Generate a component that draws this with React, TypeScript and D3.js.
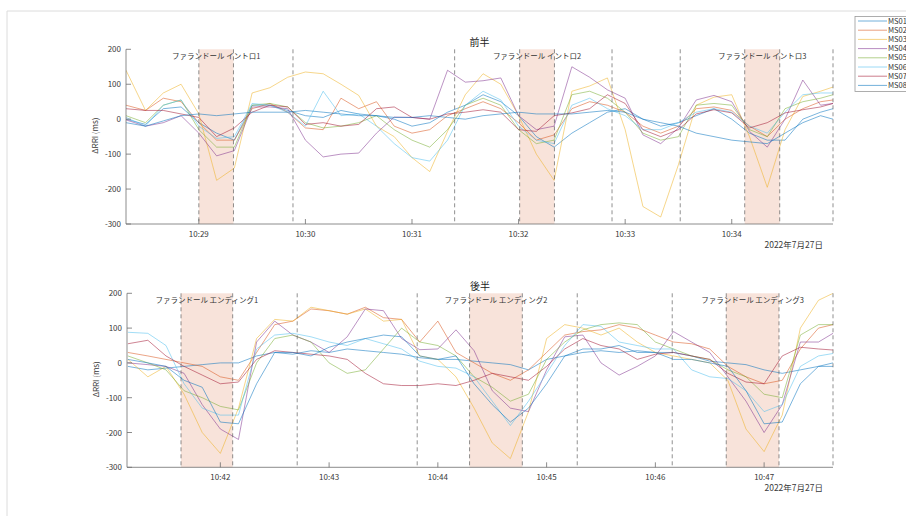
import React from 'react';
import * as d3 from 'd3';

// ---------- data ----------
const seriesNames = ['MS01', 'MS02', 'MS03', 'MS04', 'MS05', 'MS06', 'MS07', 'MS08'];
const seriesColors = ['#0072BD', '#D95319', '#EDB120', '#7E2F8E', '#77AC30', '#4DBEEE', '#A2142F', '#0072BD'];

const dateLabel = '2022年7月27日';
const yTicks = [200, 100, 0, -100, -200, -300];

// 前半 (seconds after 10:28:00)
const topBase = '2022-07-27 10:28:00';
const topDomain = [19, 417];
const topTimes = [19, 30, 40, 50, 60, 70, 80, 90, 100, 110, 120, 130, 140, 150, 160, 170, 180, 190, 200, 210, 220, 230, 240, 250, 260, 270, 280, 290, 300, 310, 320, 330, 340, 350, 360, 370, 380, 390, 400, 410, 417];
const topMS01 = [0, -15, 30, 35, -10, -40, -60, 40, 40, 25, 10, 5, 25, 15, 10, 0, -20, -10, 20, 40, 70, 50, 10, -50, -80, -40, -10, 20, 30, 0, -20, -10, 10, 30, 0, -40, -60, -60, 0, 20, 30];
const topMS02 = [40, 25, 60, 50, -10, -60, -60, 30, 45, 20, -25, -30, 60, 30, 50, -20, -40, -30, 10, 30, 50, 30, -10, -60, -45, 30, 50, 40, 20, -20, -40, -20, 30, 35, 25, -20, -50, 0, 30, 50, 55];
const topMS03 = [140, 25, 75, 100, 15, -175, -140, 75, 90, 120, 135, 130, 100, 68, -20, -50, -110, -150, -35, 70, 130, 100, 10, -100, -175, 80, 95, 118, -30, -250, -280, -130, 40, 63, 70, -50, -195, -30, 65, 80, 92];
const topMS04 = [-2, -20, -10, 10, -40, -105, -90, 35, 35, 30, -60, -108, -100, -97, -40, 6, 5, 0, 140, 106, 110, 118, 10, -30, -20, 150, 120, 84, 60, -45, -70, -25, 55, 68, 50, -35, -80, 0, 112, 40, 45];
const topMS05 = [10, -10, 40, 55, -30, -80, -80, 40, 45, 35, -10, -25, -20, -10, 10, -30, -60, -80, -30, 40, 60, 40, -30, -70, -60, 70, 80, 60, 20, -40, -60, -50, 40, 45, 40, -30, -50, 30, 50, 60, 70];
const topMS06 = [5, -20, 40, 55, -20, -55, -50, 45, 40, 20, -20, 80, 10, 15, -20, -70, -110, -120, -60, 40, 80, 55, -20, -60, -70, 40, 60, 30, 10, -30, -30, -10, 20, 30, 20, -20, -40, 20, 70, 75, 75];
const topMS07 = [30, 25, 25, 15, 5, -50, -25, 20, 40, 35, -15, -10, -20, -15, 30, 35, 5, 0, 15, 20, 27, 20, -30, -35, 10, 18, 30, 70, 45, -30, -50, -30, 15, 27, 18, -25, -10, 18, 27, 35, 45];
const topMS08 = [-10, -20, -5, 10, 15, 10, 15, 20, 20, 20, 25, 20, 15, 10, 10, 5, 5, 10, 5, 0, 10, 15, 20, 15, 15, 15, 20, 25, 20, 0, -10, -20, -40, -50, -60, -65, -70, -40, -10, 10, 0];
const topTickLabels = ['10:29', '10:30', '10:31', '10:32', '10:33', '10:34'];
const topDashes = [60, 79.5, 113, 204, 240.6, 260.2, 292.6, 331, 367.3, 387, 417];
const topBands = [[60, 79.5], [240.6, 260.2], [367.3, 387]];
const topBandLabels = ['ファランドール イントロ1', 'ファランドール イントロ2', 'ファランドール イントロ3'];
const topTitle = '前半';

// 後半 (seconds after 10:41:00)
const botBase = '2022-07-27 10:41:00';
const botDomain = [8.5, 398];
const botTimes = [9, 20, 30, 40, 50, 60, 70, 80, 90, 100, 110, 120, 130, 140, 150, 160, 170, 180, 190, 200, 210, 220, 230, 240, 250, 260, 270, 280, 290, 300, 310, 320, 330, 340, 350, 360, 370, 380, 390, 398];
const botMS01 = [-10, -20, -15, -10, -5, 0, 0, 20, 30, 25, 35, 30, 40, 35, 30, 25, 15, 10, 10, 5, 0, -5, -20, 10, 20, 30, 35, 30, 35, 30, 30, 20, 5, 0, -5, -20, -30, -20, -10, 0];
const botMS02 = [30, 20, 10, 0, -10, -40, -50, 30, 110, 120, 155, 150, 140, 160, 130, 125, 60, 120, 30, 0, -30, -50, -20, 30, 80, 90, 95, 110, 100, 80, 60, 55, 40, -10, -40, -60, -50, 40, 100, 110];
const botMS03 = [10, -40, -10, -90, -200, -260, -130, 70, 125, 120, 160, 150, 140, 155, 120, 125, 20, 10, -40, -130, -230, -275, -140, 70, 110, 100, 80, 100, 60, 30, 20, 10, 0, -50, -190, -255, -150, 100, 180, 200];
const botMS04 = [0, -5, -10, -30, -120, -190, -220, 60, 120, 80, 60, 30, 75, 155, 150, 70, 38, 40, 95, 35, -80, -130, -140, -20, 75, 80, 0, -35, -10, 20, 90, 60, 30, -40, -110, -200, -120, 60, 60, 85];
const botMS05 = [20, 0, -20, -80, -100, -125, -135, 0, 70, 80, 60, 0, -30, -20, 40, 100, 60, 50, 20, -40, -70, -110, -90, 10, 60, 95, 110, 115, 110, 60, 40, 20, 10, -20, -40, -90, -100, 80, 110, 110];
const botMS06 = [88, 85, 50, -60, -130, -150, -150, 40, 80, 85, 75, 60, 50, 70, 55, 40, 5, -10, -15, -40, -110, -180, -110, -30, 50, 110, 105, 60, 50, 40, 40, -20, -40, -45, -80, -140, -120, -10, 20, 27];
const botMS07 = [55, 65, 20, -10, -35, -60, -55, 10, 35, 30, 25, 20, 10, -30, -60, -65, -65, -60, -65, -50, -30, -40, -50, -10, 40, 70, 50, 40, 10, 25, 30, 20, 10, -30, -55, -60, 20, 45, 40, 37];
const botMS08 = [10, 0, -10, -50, -70, -170, -175, -60, 30, 30, 20, 45, 60, 70, 80, 75, 20, 10, 20, -60, -120, -170, -130, -60, 20, 40, 40, 50, 30, 30, 10, 10, 0, -10, -80, -175, -170, -60, -10, -10];
const botTickLabels = ['10:42', '10:43', '10:44', '10:45', '10:46', '10:47'];
const botDashes = [38.3, 66.8, 102.4, 168.6, 197.5, 226.6, 256.9, 309.3, 339.1, 368.2, 398];
const botBands = [[38.3, 66.8], [197.5, 226.6], [339.1, 368.2]];
const botBandLabels = ['ファランドール エンディング1', 'ファランドール エンディング2', 'ファランドール エンディング3'];
const botTitle = '後半';

const yLabel = 'ΔRRI (ms)';

// ---------- drawing ----------
const FONT = '"Noto Sans CJK JP", "Noto Sans", sans-serif';
const parseFull = d3.timeParse('%Y-%m-%d %H:%M:%S');
const parseMin = d3.timeParse('%Y-%m-%d %H:%M');

type PanelProps = {
  id: string;
  base: string;
  domain: number[];
  times: number[];
  series: number[][];
  tickLabels: string[];
  dashes: number[];
  bands: number[][];
  bandLabels: string[];
  title: string;
  left: number;
  right: number;
  top: number;
  bottom: number;
};

function Panel(p: PanelProps) {
  const baseDate = parseFull(p.base) as Date;
  const day = p.base.slice(0, 10);
  const toDate = (s: number) => new Date(baseDate.getTime() + s * 1000);
  const x = d3.scaleTime().domain([toDate(p.domain[0]), toDate(p.domain[1])]).range([p.left, p.right]);
  const y = d3.scaleLinear().domain([-300, 200]).range([p.bottom, p.top]);
  const line = d3
    .line<[number, number]>()
    .x((d) => x(toDate(d[0])))
    .y((d) => y(d[1]));
  const axisColor = '#6e6e6e';
  const textColor = '#3a3a3a';
  return (
    <g>
      <defs>
        <clipPath id={`clip-${p.id}`}>
          <rect x={p.left} y={p.top} width={p.right - p.left} height={p.bottom - p.top} />
        </clipPath>
      </defs>
      {p.bands.map((b, i) => (
        <rect
          key={`band${i}`}
          x={x(toDate(b[0]))}
          y={p.top}
          width={x(toDate(b[1])) - x(toDate(b[0]))}
          height={p.bottom - p.top}
          fill="#f8e3da"
        />
      ))}
      <g clipPath={`url(#clip-${p.id})`}>
        {p.series.map((vals, si) => (
          <path
            key={`s${si}`}
            d={line(p.times.map((t, i) => [t, vals[i]]) as [number, number][]) || ''}
            fill="none"
            stroke={seriesColors[si]}
            strokeWidth={0.85}
            strokeOpacity={0.62}
            strokeLinejoin="round"
          />
        ))}
      </g>
      {p.dashes.map((d, i) => (
        <line
          key={`dash${i}`}
          x1={x(toDate(d))}
          x2={x(toDate(d))}
          y1={p.top}
          y2={p.bottom}
          stroke="#5a5a5a"
          strokeWidth={0.8}
          strokeDasharray="4,3"
          strokeOpacity={0.85}
        />
      ))}
      {/* axes */}
      <line x1={p.left} x2={p.left} y1={p.top} y2={p.bottom} stroke={axisColor} strokeWidth={0.8} />
      <line x1={p.left} x2={p.right} y1={p.bottom} y2={p.bottom} stroke={axisColor} strokeWidth={0.8} />
      {yTicks.map((v) => (
        <g key={`yt${v}`}>
          <line x1={p.left} x2={p.left + 5} y1={y(v)} y2={y(v)} stroke={axisColor} strokeWidth={0.8} />
          <text x={p.left - 5} y={y(v) + 3} textAnchor="end" fontSize={8} fill={textColor} fontFamily={FONT}>
            {v}
          </text>
        </g>
      ))}
      {p.tickLabels.map((lab) => {
        const xx = x(parseMin(`${day} ${lab}`) as Date);
        return (
          <g key={`xt${lab}`}>
            <line x1={xx} x2={xx} y1={p.bottom} y2={p.bottom - 5} stroke={axisColor} strokeWidth={0.8} />
            <text x={xx} y={p.bottom + 12.5} textAnchor="middle" fontSize={8} fill={textColor} fontFamily={FONT}>
              {lab}
            </text>
          </g>
        );
      })}
      <text x={p.right - 10} y={p.bottom + 23.5} textAnchor="end" fontSize={8.5} fill={textColor} fontFamily={FONT}>
        {dateLabel}
      </text>
      <text
        transform={`translate(${p.left - 28},${(p.top + p.bottom) / 2 - 1}) rotate(-90)`}
        textAnchor="middle"
        fontSize={8}
        fill={textColor}
        fontFamily={FONT}
      >
        {yLabel}
      </text>
      <text x={(p.left + p.right) / 2} y={p.top - 3} textAnchor="middle" fontSize={10} fill="#222" fontFamily={FONT}>
        {p.title}
      </text>
      {p.bands.map((b, i) => (
        <text
          key={`bl${i}`}
          x={(x(toDate(b[0])) + x(toDate(b[1]))) / 2}
          y={p.top + 10}
          textAnchor="middle"
          fontSize={7.5}
          fill="#333"
          fontFamily={FONT}
        >
          {p.bandLabels[i]}
        </text>
      ))}
    </g>
  );
}

export default function App() {
  const legendY = d3.scaleLinear().domain([0, 7]).range([21, 85.4]);
  return (
    <svg
      width={906}
      height={516}
      style={{ position: 'absolute', left: 0, top: 0, background: '#fff' }}
      fontFamily={FONT}
    >
      <rect x={0} y={0} width={906} height={516} fill="#fff" />
      <line x1={7} x2={906} y1={11} y2={11} stroke="#dcdcdc" strokeWidth={1} />
      <line x1={7} x2={7} y1={11} y2={516} stroke="#dcdcdc" strokeWidth={1} />
      <Panel
        id="top"
        base={topBase}
        domain={topDomain}
        times={topTimes}
        series={[topMS01, topMS02, topMS03, topMS04, topMS05, topMS06, topMS07, topMS08]}
        tickLabels={topTickLabels}
        dashes={topDashes}
        bands={topBands}
        bandLabels={topBandLabels}
        title={topTitle}
        left={126}
        right={833}
        top={49.3}
        bottom={224}
      />
      <Panel
        id="bot"
        base={botBase}
        domain={botDomain}
        times={botTimes}
        series={[botMS01, botMS02, botMS03, botMS04, botMS05, botMS06, botMS07, botMS08]}
        tickLabels={botTickLabels}
        dashes={botDashes}
        bands={botBands}
        bandLabels={botBandLabels}
        title={botTitle}
        left={127}
        right={833}
        top={293.3}
        bottom={467.3}
      />
      {/* legend */}
      <rect x={855} y={16.5} width={60} height={75} fill="#fff" stroke="#9a9a9a" strokeWidth={0.8} />
      {seriesNames.map((n, i) => (
        <g key={n}>
          <line x1={858} x2={887} y1={legendY(i)} y2={legendY(i)} stroke={seriesColors[i]} strokeWidth={0.9} strokeOpacity={0.62} />
          <text x={888} y={legendY(i) + 2.6} fontSize={7.5} fill="#333" fontFamily={FONT}>
            {n}
          </text>
        </g>
      ))}
    </svg>
  );
}
